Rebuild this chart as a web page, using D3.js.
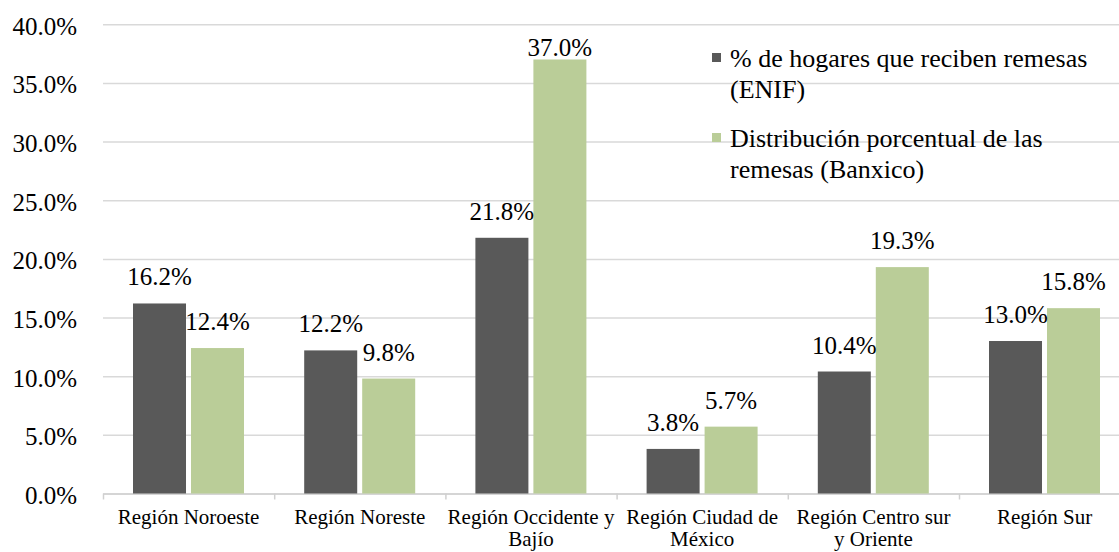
<!DOCTYPE html>
<html>
<head>
<meta charset="utf-8">
<script src="https://cdn.jsdelivr.net/npm/d3@7"></script>
<style>
body { margin: 0; background: #fff; }
text { font-family: "Liberation Serif", "Times New Roman", serif; fill: #000; }
</style>
</head>
<body>
<svg id="chart" width="1119" height="552"></svg>
<script>
var categories = ["Región Noroeste", "Región Noreste", "Región Occidente y Bajío", "Región Ciudad de México", "Región Centro sur y Oriente", "Región Sur"];
// line breaks as they appear under the axis
var categoryLines = [["Región Noroeste"], ["Región Noreste"], ["Región Occidente y", "Bajío"], ["Región Ciudad de", "México"], ["Región Centro sur", "y Oriente"], ["Región Sur"]];
var legendLines = [["% de hogares que reciben remesas", "(ENIF)"], ["Distribución porcentual de las", "remesas (Banxico)"]];
var hogares = [16.2, 12.2, 21.8, 3.8, 10.4, 13.0];
var remesas = [12.4, 9.8, 37.0, 5.7, 19.3, 15.8];
var yTicks = [0, 5, 10, 15, 20, 25, 30, 35, 40];
var colors = ["#595959", "#bacd98"];

var series = [hogares, remesas];

var width = 1119, height = 552;
var left = 103, plotRight = 1130.2;

var svg = d3.select('#chart');

var x0 = d3.scaleBand().domain(categories).range([left, plotRight]);
var x1 = d3.scaleBand().domain([0, 1]).range([30, 141]).paddingInner(0.086);
var y = d3.scaleLinear().domain([0, 40]).range([493.5, 24.3]);

// gridlines + y labels
var yAxis = svg.append('g')
    .attr('transform', 'translate(' + left + ',0)')
    .call(d3.axisLeft(y).tickValues(yTicks).tickSize(-(width - left)).tickPadding(26)
        .tickFormat(function(d) { return d.toFixed(1) + '%'; }));
yAxis.select('.domain').remove();
yAxis.selectAll('line').attr('stroke', '#d9d9d9').attr('stroke-width', 1.5);
yAxis.selectAll('text')
    .attr('dy', '0.4em')
    .style('font-size', '25px')
    .style('font-family', '"Liberation Serif", "Times New Roman", serif')
    .attr('fill', '#000');

// category boundary ticks along the baseline
var edges = d3.scaleLinear().domain([0, categories.length]).range([left, plotRight]);
var xAxis = svg.append('g')
    .attr('transform', 'translate(0,' + y(0) + ')')
    .call(d3.axisBottom(edges).tickValues(d3.range(categories.length + 1)).tickSize(6).tickSizeOuter(0).tickFormat(''));
xAxis.select('.domain').attr('stroke', '#d0d0d0').attr('stroke-width', 1.5);
xAxis.selectAll('line').attr('stroke', '#d0d0d0').attr('stroke-width', 1.5);

// category labels
categories.forEach(function(c, i) {
    var t = svg.append('text')
        .attr('x', x0(c) + x0.bandwidth() / 2)
        .attr('y', 524)
        .attr('text-anchor', 'middle')
        .style('font-size', '21px');
    categoryLines[i].forEach(function(line, j) {
        t.append('tspan')
            .attr('x', x0(c) + x0.bandwidth() / 2)
            .attr('dy', j == 0 ? 0 : 22)
            .text(line);
    });
});

// bars
series.forEach(function(vals, s) {
    svg.append('g').selectAll('rect')
        .data(vals)
        .enter().append('rect')
        .attr('x', function(d, i) { return x0(categories[i]) + x1(s); })
        .attr('y', function(d) { return y(d); })
        .attr('width', x1.bandwidth())
        .attr('height', function(d) { return y(0) - y(d); })
        .attr('fill', colors[s]);
});

// data labels
series.forEach(function(vals, s) {
    svg.append('g').selectAll('text')
        .data(vals)
        .enter().append('text')
        .attr('x', function(d, i) { return x0(categories[i]) + x1(s) + x1.bandwidth() / 2; })
        .attr('y', function(d) { return Math.max(y(d) - 18, 56); })
        .attr('text-anchor', 'middle')
        .style('font-size', '25px')
        .text(function(d) { return d.toFixed(1) + '%'; });
});

// legend
legendLines.forEach(function(lines, k) {
    var base = 67 + k * 80;
    svg.append('rect')
        .attr('x', 712).attr('y', base - 14)
        .attr('width', 9).attr('height', 9)
        .attr('fill', colors[k]);
    lines.forEach(function(line, j) {
        svg.append('text')
            .attr('x', 730)
            .attr('y', base + j * 31)
            .style('font-size', '26px')
            .text(line);
    });
});
</script>
</body>
</html>
